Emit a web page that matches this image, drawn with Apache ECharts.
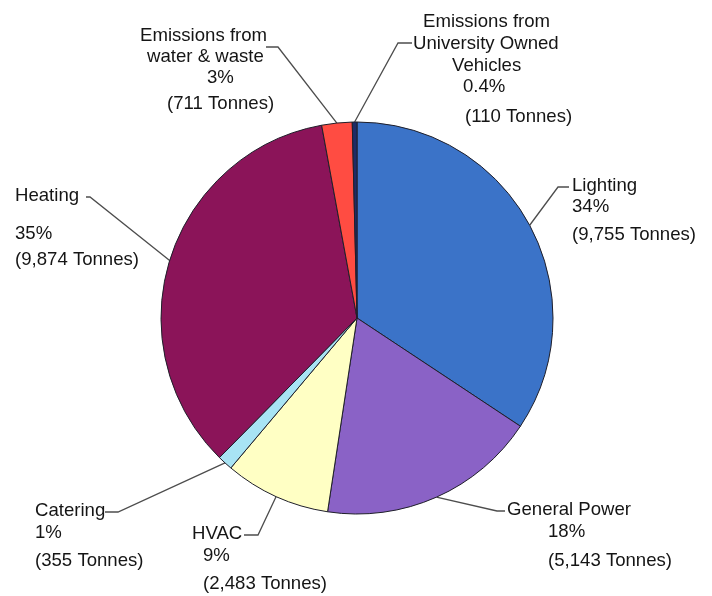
<!DOCTYPE html>
<html><head><meta charset="utf-8">
<script src="https://cdn.jsdelivr.net/npm/echarts@6/dist/echarts.min.js"></script>
<style>html,body{margin:0;padding:0;background:#fff}#c{width:712px;height:596px}</style>
</head><body><div id="c"></div>
<script>
// ---- data ----
const categories = ['Lighting', 'General Power', 'HVAC', 'Catering', 'Heating',
  'Emissions from\nwater & waste', 'Emissions from\nUniversity Owned\nVehicles'];
const tonnes = [9755, 5143, 2483, 355, 9874, 711, 110];
const percentLabels = ['34%', '18%', '9%', '1%', '35%', '3%', '0.4%'];

// ---- styles ----
const colors = ['#3b73c8', '#8a62c6', '#ffffc4', '#a8e4f4', '#8b1459', '#ff4c42', '#1e2b66'];
const FONT = 'Liberation Sans, Arial, sans-serif';
const FS = 18.6;
// label placement (left x, top y, per-line [x offset, line height], leader elbow & end)
const labelBoxes = [
  {x: 572, y: 175.5, lines: [[0, 21], [0, 21], [0, 35]], elbow: [558, 187], end: [569, 187]},
  {x: 507, y: 499, lines: [[0, 22], [41, 22], [41, 36]], elbow: [497, 511], end: [505, 511]},
  {x: 192, y: 523, lines: [[0, 22], [11, 22], [11, 34]], elbow: [258, 535], end: [244, 535]},
  {x: 35, y: 500, lines: [[0, 22], [0, 22], [0, 34]], elbow: [118, 512], end: [105, 512]},
  {x: 15, y: 173, lines: [[0, 46], [0, 30], [0, 22]], elbow: [90, 197], end: [86, 197]},
  {x: 140, y: 25.5, lines: [[0, 21], [7, 21], [67, 21], [27, 31]], elbow: [278, 47], end: [266, 47]},
  {x: 413, y: 11, lines: [[10, 22], [0, 22], [39, 22], [50, 20], [52, 40]], elbow: [398, 43], end: [412, 43]}
];

function fmtNum(n) { return String(n).replace(/\B(?=(\d{3})+(?!\d))/g, ','); }

const seriesData = categories.map(function (name, i) {
  const lines = name.split('\n').concat([percentLabels[i], '(' + fmtNum(tonnes[i]) + ' Tonnes)']);
  const rich = {};
  const parts = lines.map(function (t, k) {
    const cfg = labelBoxes[i].lines[k];
    rich['l' + k] = {
      fontFamily: FONT, fontSize: FS, color: '#151515',
      lineHeight: cfg[1], padding: [0, 0, 0, cfg[0]]
    };
    return '{l' + k + '|' + t + '}';
  });
  return {
    name: name,
    value: tonnes[i],
    itemStyle: {color: colors[i]},
    label: {formatter: parts.join('\n'), rich: rich}
  };
});

const chart = echarts.init(document.getElementById('c'), null, {renderer: 'canvas'});
chart.setOption({
  animation: false,
  backgroundColor: '#ffffff',
  series: [{
    type: 'pie',
    center: [357, 318],
    radius: 196,
    startAngle: 90,
    clockwise: true,
    avoidLabelOverlap: false,
    silent: true,
    itemStyle: {borderColor: '#1f1f2a', borderWidth: 1},
    emphasis: {disabled: true},
    label: {
      show: true, position: 'outside', width: 220, overflow: 'none',
      fontFamily: FONT, fontSize: FS, color: '#151515'
    },
    labelLine: {show: true, length: 10, length2: 10, smooth: false,
      lineStyle: {color: '#4d4d4d', width: 1.3}},
    labelLayout: function (p) {
      const b = labelBoxes[p.dataIndex];
      const res = {x: b.x, y: b.y, align: 'left', verticalAlign: 'top'};
      if (p.labelLinePoints && p.labelLinePoints.length) {
        res.labelLinePoints = [p.labelLinePoints[0], b.elbow, b.end];
      }
      return res;
    },
    data: seriesData
  }]
});
</script>
</body></html>
